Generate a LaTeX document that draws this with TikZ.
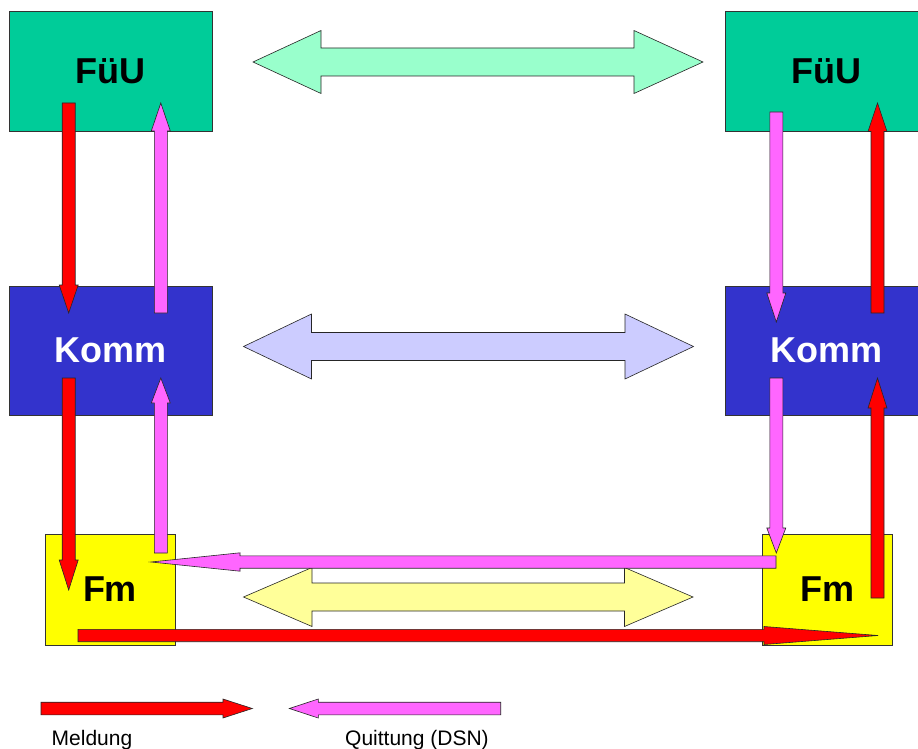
\documentclass[tikz,border=0pt]{standalone}
\usepackage{fontspec}
\setmainfont{Liberation Sans}
\definecolor{fuu}{HTML}{00CC99}
\definecolor{komm}{HTML}{3333CC}
\definecolor{fmy}{HTML}{FFFF00}
\definecolor{mred}{HTML}{FF0000}
\definecolor{mpink}{HTML}{FF66FF}
\definecolor{lgreen}{HTML}{99FFCC}
\definecolor{lblue}{HTML}{CCCCFF}
\definecolor{lyellow}{HTML}{FFFF99}
\tikzset{
  box/.style={draw=black!80, line width=0.8pt, inner sep=0pt,
    font=\fontsize{36}{40}\selectfont\bfseries},
  blk/.style={draw=black!85, line width=0.6pt, line join=miter},
  lbl/.style={font=\fontsize{21}{24}\selectfont, anchor=base west, inner sep=0pt}
}
% vertical block arrow: x, tail y, head-base y, tip y, colour
\newcommand{\vblk}[5]{%
  \filldraw[blk, fill=#5] ({#1-6.5},#2) -- ({#1+6.5},#2) -- ({#1+6.5},#3) -- ({#1+9.5},#3)
    -- (#1,#4) -- ({#1-9.5},#3) -- ({#1-6.5},#3) -- cycle;}
% horizontal block arrow: y, tail x, head-base x, tip x, shaft half, head half, colour
\newcommand{\hblk}[7]{%
  \filldraw[blk, fill=#7] (#2,{#1-#5}) -- (#3,{#1-#5}) -- (#3,{#1-#6}) -- (#4,#1)
    -- (#3,{#1+#6}) -- (#3,{#1+#5}) -- (#2,{#1+#5}) -- cycle;}
% double block arrow: y, left tip, left base, right base, right tip, shaft half, head half, colour
\newcommand{\dblk}[8]{%
  \filldraw[blk, fill=#8] (#2,#1) -- (#3,{#1-#7}) -- (#3,{#1-#6}) -- (#4,{#1-#6}) -- (#4,{#1-#7})
    -- (#5,#1) -- (#4,{#1+#7}) -- (#4,{#1+#6}) -- (#3,{#1+#6}) -- (#3,{#1+#7}) -- cycle;}
\begin{document}
\begin{tikzpicture}[x=1pt, y=-1pt]
\useasboundingbox[fill=white] (0,0) rectangle (918,749);
% boxes
\node[box, fill=fuu, minimum width=203pt, minimum height=120pt] (fuuL) at (110.5,71) {FüU};
\node[box, fill=fuu, minimum width=203pt, minimum height=120pt] (fuuR) at (826.5,71) {FüU};
\node[box, fill=komm, text=white, minimum width=203pt, minimum height=129pt] (kommL) at (110.5,350.5) {Komm};
\node[box, fill=komm, text=white, minimum width=203pt, minimum height=129pt] (kommR) at (826.5,350.5) {Komm};
\node[box, fill=fmy, minimum width=130pt, minimum height=111pt] (fmL) at (110,589.5) {Fm};
\node[box, fill=fmy, minimum width=130pt, minimum height=111pt] (fmR) at (827,589.5) {Fm};
% double arrows between levels
\dblk{62}{253}{321}{634}{703}{14}{31.5}{lgreen}
\dblk{346.5}{243.5}{311.5}{625}{693.5}{14}{32.5}{lblue}
\dblk{597}{243.5}{312}{624.5}{693}{14}{29.5}{lyellow}
% left column
\vblk{68.7}{103}{285}{313}{mred}
\vblk{160.8}{313}{131}{103}{mpink}
\vblk{68.7}{378}{560}{590}{mred}
\vblk{160.8}{553}{403}{378}{mpink}
% right column
\vblk{776.3}{112}{293}{322}{mpink}
\vblk{877.5}{313}{131.5}{103}{mred}
\vblk{776.3}{378}{528}{553}{mpink}
\vblk{877.5}{598}{408}{378}{mred}
% horizontal arrows
\hblk{562}{776}{240}{151}{6.2}{9.2}{mpink}
\hblk{635.5}{78}{764}{878}{6.2}{9}{mred}
% legend
\hblk{708.5}{41}{223}{252.3}{6.3}{9.5}{mred}
\hblk{708.5}{500.7}{318.3}{289.3}{6.3}{9.5}{mpink}
\node[lbl] (meld) at (51.5,745) {Meldung};
\node[lbl] (quit) at (345,745) {Quittung (DSN)};
\end{tikzpicture}
\end{document}
